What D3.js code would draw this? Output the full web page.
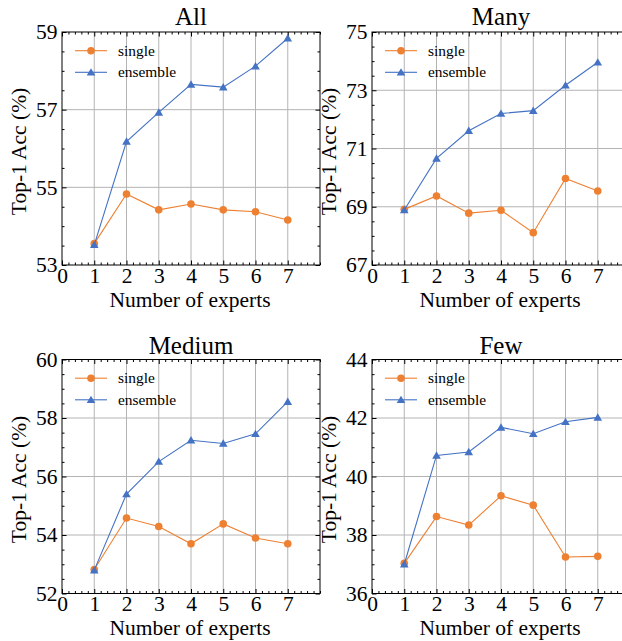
<!DOCTYPE html>
<html lang="en">
<head>
  <meta charset="UTF-8">
  <title>Number of experts</title>
  <style>
    body { margin: 0; background: #fff; }
    svg { display: block; }
    .grid line { stroke: #b4b4b4; stroke-width: 1; }
    .axis path { stroke: none; }
    .axis line { stroke: #000; stroke-width: 1; }
  </style>
</head>
<body>
  <div id="chart"></div>

  <script src="https://d3js.org/d3.v7.min.js"></script>
  <script>
    // data
    const experts = [1, 2, 3, 4, 5, 6, 7];
    const xTicks = [0, 1, 2, 3, 4, 5, 6, 7];

    const titles = ['All', 'Many', 'Medium', 'Few'];

    const allSingle = [53.55, 54.83, 54.42, 54.57, 54.42, 54.37, 54.16];
    const allEnsemble = [53.52, 56.18, 56.93, 57.65, 57.58, 58.12, 58.84];

    const manySingle = [68.91, 69.37, 68.78, 68.88, 68.11, 69.97, 69.54];
    const manyEnsemble = [68.89, 70.66, 71.61, 72.20, 72.30, 73.17, 73.96];

    const mediumSingle = [52.82, 54.58, 54.29, 53.70, 54.38, 53.90, 53.70];
    const mediumEnsemble = [52.80, 55.40, 56.51, 57.24, 57.13, 57.46, 58.56];

    const fewSingle = [37.03, 38.63, 38.34, 39.34, 39.02, 37.25, 37.27];
    const fewEnsemble = [37.00, 40.72, 40.84, 41.68, 41.46, 41.87, 42.02];

    const allTicks = [53, 55, 57, 59];
    const manyTicks = [67, 69, 71, 73, 75];
    const mediumTicks = [52, 54, 56, 58, 60];
    const fewTicks = [36, 38, 40, 42, 44];

    const seriesNames = ['single', 'ensemble'];

    const panels = [
      { title: titles[0], single: allSingle, ensemble: allEnsemble, ticks: allTicks },
      { title: titles[1], single: manySingle, ensemble: manyEnsemble, ticks: manyTicks },
      { title: titles[2], single: mediumSingle, ensemble: mediumEnsemble, ticks: mediumTicks },
      { title: titles[3], single: fewSingle, ensemble: fewEnsemble, ticks: fewTicks }
    ];

    const FONT = 'Liberation Serif';
    const colors = { single: '#ee8032', ensemble: '#4472c4' };
    const pw = 258;
    const origins = [
      { left: 62, top: 32, h: 233, tt: -7 },
      { left: 372, top: 32, h: 233, tt: -7 },
      { left: 62, top: 359.5, h: 234, tt: -6 },
      { left: 372, top: 359.5, h: 234, tt: -6 }
    ];

    const svg = d3.select('#chart').append('svg')
      .attr('width', 622)
      .attr('height', 641);

    const tri = d3.symbol().type(d3.symbolTriangle).size(32);

    panels.forEach((p, i) => {
      const o = origins[i];
      const h = o.h;
      const g = svg.append('g').attr('transform', `translate(${o.left},${o.top})`);

      const x = d3.scaleLinear().domain([0, 8]).range([0, pw]);
      const lo = p.ticks[0], hi = p.ticks[p.ticks.length - 1];
      const y = d3.scaleLinear().domain([lo, hi]).range([h, 0]);

      const xMinor = d3.range(0, 8.001, 0.2).map(v => +v.toFixed(1)).filter(v => !xTicks.includes(v));
      const yMinor = d3.range(lo, hi + 0.001, 0.5).filter(v => !p.ticks.includes(v));

      // grid
      const grid = g.append('g').attr('class', 'grid');
      grid.selectAll('.gx').data(experts).enter().append('line')
        .attr('x1', d => x(d)).attr('x2', d => x(d))
        .attr('y1', 0).attr('y2', h);
      grid.selectAll('.gy').data(p.ticks.slice(1, -1)).enter().append('line')
        .attr('x1', 0).attr('x2', pw)
        .attr('y1', d => y(d)).attr('y2', d => y(d));

      // axes, ticks pointing inward
      const styleText = a => a.selectAll('text')
        .attr('font-family', FONT).attr('font-size', 21.5).attr('fill', '#000');

      g.append('g').attr('class', 'axis')
        .attr('transform', `translate(0,${h})`)
        .call(d3.axisBottom(x).tickValues(xTicks).tickFormat(d3.format('d')).tickSize(-4.5).tickPadding(2.5))
        .call(styleText);
      g.append('g').attr('class', 'axis')
        .attr('transform', `translate(0,${h})`)
        .call(d3.axisBottom(x).tickValues(xMinor).tickFormat('').tickSize(-2.5));
      g.append('g').attr('class', 'axis')
        .call(d3.axisTop(x).tickValues(xTicks).tickFormat('').tickSize(-4.5));
      g.append('g').attr('class', 'axis')
        .call(d3.axisTop(x).tickValues(xMinor).tickFormat('').tickSize(-2.5));

      g.append('g').attr('class', 'axis')
        .call(d3.axisLeft(y).tickValues(p.ticks).tickFormat(d3.format('d')).tickSize(-4.5).tickPadding(4.5))
        .call(styleText);
      g.append('g').attr('class', 'axis')
        .call(d3.axisLeft(y).tickValues(yMinor).tickFormat('').tickSize(-2.5));
      g.append('g').attr('class', 'axis')
        .attr('transform', `translate(${pw},0)`)
        .call(d3.axisRight(y).tickValues(p.ticks).tickFormat('').tickSize(-4.5));
      g.append('g').attr('class', 'axis')
        .attr('transform', `translate(${pw},0)`)
        .call(d3.axisRight(y).tickValues(yMinor).tickFormat('').tickSize(-2.5));

      // frame
      g.append('rect')
        .attr('width', pw).attr('height', h)
        .attr('fill', 'none').attr('stroke', '#000').attr('stroke-width', 1);

      // lines + markers
      const line = d3.line().x((d, j) => x(experts[j])).y(d => y(d));
      seriesNames.forEach(name => {
        const vals = p[name];
        g.append('path')
          .datum(vals)
          .attr('d', line)
          .attr('fill', 'none')
          .attr('stroke', colors[name])
          .attr('stroke-width', 1.1);
        const m = g.selectAll('.m-' + name).data(vals).enter();
        if (name === 'single') {
          m.append('circle')
            .attr('cx', (d, j) => x(experts[j]))
            .attr('cy', d => y(d))
            .attr('r', 3.8)
            .attr('fill', colors[name]);
        } else {
          m.append('path')
            .attr('d', tri)
            .attr('transform', (d, j) => `translate(${x(experts[j])},${y(d) + 0.8})`)
            .attr('fill', colors[name]);
        }
      });

      // legend
      seriesNames.forEach((name, k) => {
        const ly = 18.7 + k * 21.6;
        g.append('line')
          .attr('x1', 13).attr('x2', 45)
          .attr('y1', ly).attr('y2', ly)
          .attr('stroke', colors[name]).attr('stroke-width', 1.1);
        if (name === 'single') {
          g.append('circle').attr('cx', 29).attr('cy', ly).attr('r', 3.8).attr('fill', colors[name]);
        } else {
          g.append('path').attr('d', tri)
            .attr('transform', `translate(29,${ly + 0.8})`)
            .attr('fill', colors[name]);
        }
        g.append('text')
          .attr('x', 56).attr('y', ly + 5)
          .attr('font-family', FONT).attr('font-size', 15.4)
          .text(name);
      });

      // title and axis labels
      g.append('text')
        .attr('x', pw / 2).attr('y', o.tt)
        .attr('text-anchor', 'middle')
        .attr('font-family', FONT).attr('font-size', 25)
        .text(p.title);
      g.append('text')
        .attr('x', 128).attr('y', h + 41.5)
        .attr('text-anchor', 'middle')
        .attr('font-family', FONT).attr('font-size', 21.5)
        .text('Number of experts');
      g.append('text')
        .attr('transform', `translate(-36,${h / 2 + 3}) rotate(-90)`)
        .attr('text-anchor', 'middle')
        .attr('font-family', FONT).attr('font-size', 21.5)
        .text('Top-1 Acc (%)');
    });
  </script>
</body>
</html>
